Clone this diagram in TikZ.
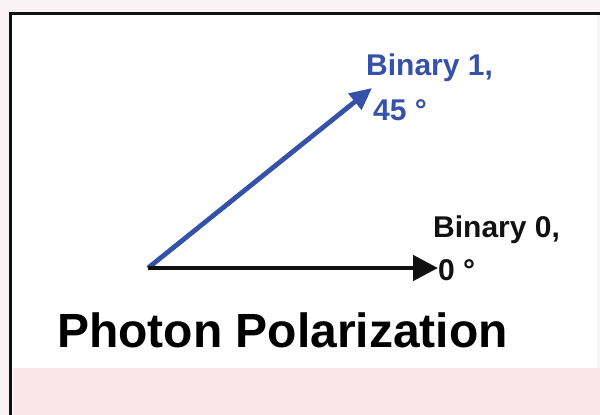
\documentclass[tikz,border=0pt]{standalone}
\usepackage{fontspec}
\setmainfont{Liberation Sans}
\usetikzlibrary{arrows.meta,positioning}
\definecolor{ink}{HTML}{111111}
\definecolor{pblue}{HTML}{3652A8}
\definecolor{blush}{HTML}{F8E6EA}
\definecolor{haze}{HTML}{FAF3F5}

\begin{document}
\begin{tikzpicture}[x=1pt,y=-1pt,
  lbl/.style={anchor=base west,inner sep=0pt,font=\fontsize{30}{36}\selectfont\bfseries},
  vec/.style={line width=4.8pt}]
  \useasboundingbox (0,0) rectangle (600,415);
  % page, frame and faint backdrop
  \fill[haze] (0,0) rectangle (600,415);
  \fill[white] (12,15) rectangle (597,368);
  \fill[blush] (14,368) rectangle (600,415);
  \draw[ink,line width=3pt] (10.8,415) |- (600,13.8);
  % labels
  \node[lbl,text=pblue] (bin1) at (366,75) {Binary 1,};
  \node[lbl,text=pblue] (deg45) at (373,120) {45 °};
  \node[lbl,text=ink] (bin0) at (433,237) {Binary 0,};
  \node[lbl,text=ink] (deg0) at (438,280) {0 °};
  \node[lbl,font=\fontsize{48}{56}\selectfont\bfseries] (title) at (57,347) {Photon Polarization};
  % vectors
  \coordinate (o) at (148,268);
  \coordinate (tip1) at (372,88);
  \draw[vec,pblue,-{Triangle[length=22pt,width=20pt]}] (o) -- (tip1);
  \draw[vec,ink,-{Triangle[length=25pt,width=25pt]}] (o) -- (o -| deg0.west);
\end{tikzpicture}
\end{document}
